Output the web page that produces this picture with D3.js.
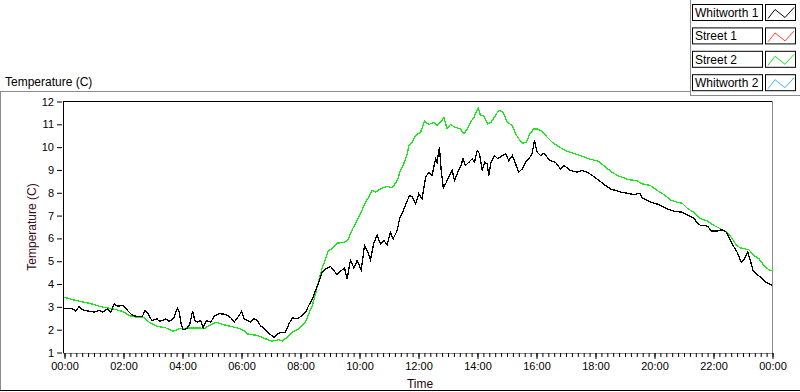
<!DOCTYPE html>
<html>
<head>
<meta charset="utf-8">
<script src="https://cdn.jsdelivr.net/npm/d3@7"></script>
<style>
  html, body { margin: 0; padding: 0; background: #fff; }
  svg { display: block; font-family: "Liberation Sans", Arial, sans-serif; }
</style>
</head>
<body>
<div id="chart"></div>
<script>
// Whitworth 1 (black) - hours since midnight, temperature in C
const w1Hours = [0.00,0.27,0.38,0.50,0.61,0.84,1.00,1.18,1.29,1.46,1.57,1.68,1.80,1.97,2.08,2.19,2.31,2.47,2.64,2.73,2.85,2.96,3.13,3.21,3.32,3.43,3.55,3.69,3.83,3.89,3.94,4.02,4.14,4.25,4.34,4.42,4.51,4.62,4.70,4.81,4.96,5.07,5.24,5.47,5.64,5.75,5.92,6.00,6.09,6.20,6.31,6.42,6.53,6.64,6.81,6.98,7.10,7.21,7.32,7.49,7.60,7.72,7.89,8.06,8.17,8.28,8.40,8.51,8.62,8.73,8.85,9.02,9.13,9.24,9.36,9.49,9.58,9.69,9.81,9.92,10.06,10.17,10.28,10.37,10.49,10.60,10.71,10.82,10.94,11.05,11.14,11.28,11.37,11.45,11.53,11.62,11.70,11.79,11.90,12.01,12.12,12.24,12.35,12.46,12.58,12.63,12.71,12.77,12.84,12.92,13.03,13.14,13.22,13.33,13.42,13.51,13.59,13.71,13.82,13.90,13.99,14.07,14.16,14.24,14.33,14.38,14.46,14.58,14.69,14.84,14.95,15.06,15.18,15.29,15.40,15.52,15.63,15.74,15.85,15.93,16.02,16.14,16.25,16.36,16.47,16.64,16.81,16.93,17.15,17.38,17.55,17.72,17.89,18.15,18.34,18.51,18.68,18.85,19.07,19.30,19.50,19.58,19.81,19.98,20.15,20.26,20.43,20.66,20.94,21.16,21.33,21.45,21.56,21.70,21.81,21.93,22.12,22.29,22.44,22.52,22.63,22.80,22.94,23.03,23.16,23.25,23.34,23.48,23.65,23.76,24.00];
const w1Temps = [2.94,2.92,2.81,3.02,2.87,2.81,2.77,2.84,2.77,2.92,2.77,3.13,3.03,3.06,2.92,2.77,2.62,2.58,2.58,2.84,2.67,2.40,2.48,2.37,2.40,2.48,2.37,2.48,2.94,2.77,2.33,2.00,2.04,2.26,2.81,2.40,2.33,2.40,2.08,2.40,2.33,2.58,2.70,2.67,2.52,2.33,2.62,2.80,2.48,2.40,2.33,2.48,2.40,2.18,2.00,1.79,1.65,1.79,1.89,1.89,2.23,2.52,2.48,2.62,2.77,3.06,3.35,3.72,4.08,4.52,4.67,4.77,4.59,4.42,4.56,4.71,4.23,5.03,4.71,5.03,4.62,5.69,5.40,5.06,5.83,6.13,5.76,5.91,5.73,6.27,5.98,6.35,6.93,7.10,7.37,7.66,7.88,7.81,7.52,7.96,7.74,8.68,8.90,8.76,9.49,9.34,10.00,8.98,8.22,8.39,8.71,8.98,8.54,8.90,9.12,9.49,9.20,9.34,9.49,9.34,9.85,9.71,8.98,9.34,9.27,8.76,9.34,9.63,9.49,9.63,9.71,9.41,9.63,9.27,8.90,9.05,9.34,9.49,9.71,10.29,9.78,9.63,9.73,9.56,9.41,9.34,9.05,9.20,8.98,8.90,8.98,8.90,8.76,8.51,8.32,8.17,8.10,8.03,7.98,7.92,7.98,7.78,7.63,7.54,7.49,7.40,7.30,7.19,7.15,7.00,6.90,6.67,6.57,6.57,6.52,6.32,6.32,6.38,6.27,6.05,5.76,5.40,4.96,5.06,5.40,5.03,4.59,4.42,4.23,4.10,3.94];

// Street 2 (green)
const s2Hours = [0.00,0.38,0.84,1.29,1.63,1.97,2.19,2.42,2.70,2.87,3.15,3.43,3.69,3.89,4.23,4.57,4.74,4.90,5.13,5.36,5.64,5.86,6.09,6.19,6.32,6.53,6.81,7.04,7.27,7.38,7.55,7.72,7.94,8.17,8.28,8.40,8.51,8.62,8.73,8.85,8.93,9.07,9.24,9.47,9.60,9.75,9.92,10.06,10.20,10.32,10.43,10.54,10.71,10.94,11.11,11.28,11.39,11.50,11.62,11.67,11.79,11.90,12.07,12.20,12.35,12.52,12.63,12.75,12.86,12.97,13.08,13.25,13.42,13.54,13.65,13.76,13.88,14.02,14.10,14.21,14.35,14.46,14.61,14.72,14.87,15.01,15.18,15.29,15.40,15.52,15.66,15.77,15.91,16.04,16.19,16.36,16.53,16.70,16.87,17.04,17.26,17.49,17.77,18.11,18.34,18.56,18.74,18.96,19.13,19.39,19.58,19.86,20.09,20.32,20.54,20.77,20.94,21.13,21.33,21.56,21.79,22.01,22.24,22.46,22.60,22.75,22.89,23.05,23.20,23.37,23.54,23.71,23.88,24.00];
const s2Temps = [3.42,3.28,3.16,2.99,2.92,2.80,2.62,2.55,2.52,2.33,2.14,2.08,1.93,2.04,2.08,2.08,2.04,2.18,2.33,2.23,2.14,2.08,1.96,1.82,1.79,1.75,1.60,1.50,1.56,1.50,1.67,1.89,2.04,2.33,2.70,3.06,3.57,4.16,4.67,5.11,5.44,5.55,5.79,5.83,5.91,6.38,6.79,7.15,7.59,7.81,8.10,8.03,8.17,8.28,8.22,8.54,8.98,9.27,9.71,10.07,10.22,10.51,10.65,11.14,10.99,11.09,10.95,11.09,11.31,10.80,10.99,10.87,10.80,10.58,10.80,11.09,11.31,11.72,11.39,11.39,11.02,11.09,11.39,11.61,11.53,11.09,10.95,10.58,10.37,10.17,10.22,10.58,10.80,10.80,10.70,10.44,10.22,10.07,9.93,9.82,9.73,9.63,9.49,9.38,9.12,8.90,8.76,8.66,8.57,8.54,8.39,8.32,8.10,7.92,7.69,7.59,7.54,7.30,7.15,6.86,6.76,6.57,6.42,6.27,6.05,5.76,5.59,5.55,5.50,5.25,5.11,4.81,4.62,4.59];

const legendNames = ["Whitworth 1", "Street 1", "Street 2", "Whitworth 2"];
const legendColors = ["#000000", "#ff4040", "#1ee61e", "#40b8ff"];
const yTicks = [1,2,3,4,5,6,7,8,9,10,11,12];

const W = 800, H = 392;
const day0 = new Date(2000, 0, 1, 0, 0);
const toDate = h => new Date(day0.getTime() + h * 3600000);

const svg = d3.select("#chart").append("svg").attr("width", W).attr("height", H);

const x = d3.scaleTime().domain([toDate(0), toDate(24)]).range([64.5, 772.5]);
const y = d3.scaleLinear().domain([1, 12]).range([352.5, 101.5]);

// outer frame
svg.append("line").attr("x1", 0).attr("x2", 690).attr("y1", 91.5).attr("y2", 91.5).attr("stroke", "#8c8c8c");
svg.append("line").attr("x1", 0.5).attr("x2", 0.5).attr("y1", 91).attr("y2", 391).attr("stroke", "#8c8c8c");
svg.append("line").attr("x1", 0).attr("x2", W).attr("y1", 390.5).attr("y2", 390.5).attr("stroke", "#000");
svg.append("line").attr("x1", 690.5).attr("x2", 690.5).attr("y1", 0).attr("y2", 96).attr("stroke", "#8c8c8c");
svg.append("line").attr("x1", 690).attr("x2", W).attr("y1", 95.5).attr("y2", 95.5).attr("stroke", "#8c8c8c");

svg.append("text").attr("x", 5).attr("y", 86).attr("font-size", "12px").attr("fill", "#000")
  .text("Temperature (C)");

// plot frame
svg.append("line").attr("x1", 63).attr("x2", 773).attr("y1", 101.5).attr("y2", 101.5).attr("stroke", "#000");
svg.append("line").attr("x1", 63.5).attr("x2", 63.5).attr("y1", 101).attr("y2", 354).attr("stroke", "#000");
svg.append("line").attr("x1", 63).attr("x2", 773).attr("y1", 353.5).attr("y2", 353.5).attr("stroke", "#8c8c8c");
svg.append("line").attr("x1", 772.5).attr("x2", 772.5).attr("y1", 101).attr("y2", 354).attr("stroke", "#8c8c8c");

// y axis
const yAxis = svg.append("g").attr("transform", "translate(62,0)")
  .call(d3.axisLeft(y).tickValues(yTicks).tickSize(5).tickPadding(3));
yAxis.select(".domain").remove();
yAxis.selectAll("text").attr("font-size", "11px").attr("font-family", "Liberation Sans, Arial, sans-serif").attr("fill", "#000");
yAxis.selectAll("line").attr("stroke", "#000");

// x axis, major every 2h, minor every 12 min
const xMinor = svg.append("g").attr("transform", "translate(0,353)")
  .call(d3.axisBottom(x).ticks(d3.timeMinute.every(12)).tickSize(4).tickFormat(""));
xMinor.select(".domain").remove();
xMinor.selectAll("line").attr("stroke", "#000");

const xAxis = svg.append("g").attr("transform", "translate(0,353)")
  .call(d3.axisBottom(x).ticks(d3.timeHour.every(2)).tickSize(6).tickPadding(3).tickFormat(d3.timeFormat("%H:%M")));
xAxis.select(".domain").remove();
xAxis.selectAll("text").attr("font-size", "11px").attr("font-family", "Liberation Sans, Arial, sans-serif").attr("fill", "#000");
xAxis.selectAll("line").attr("stroke", "#000");

// axis titles
svg.append("text").attr("transform", "translate(36,227) rotate(-90)")
  .attr("text-anchor", "middle").attr("font-size", "12px").attr("fill", "#3a0c24")
  .text("Temperature (C)");
svg.append("text").attr("x", 420).attr("y", 388)
  .attr("text-anchor", "middle").attr("font-size", "12px").attr("fill", "#1a0a14")
  .text("Time");

// series (aliased 1px lines like the original instrument plot)
const line = d3.line().x(d => x(toDate(d[0]))).y(d => y(d[1]));
const s2 = s2Hours.map((h, i) => [h, s2Temps[i]]);
const w1 = w1Hours.map((h, i) => [h, w1Temps[i]]);

svg.append("path").datum(s2).attr("d", line)
  .attr("fill", "none").attr("stroke", legendColors[2]).attr("stroke-width", 1.3)
  .attr("shape-rendering", "crispEdges");
svg.append("path").datum(w1).attr("d", line)
  .attr("fill", "none").attr("stroke", legendColors[0]).attr("stroke-width", 1.3)
  .attr("shape-rendering", "crispEdges");

// legend
const leg = svg.append("g");
legendNames.forEach((name, i) => {
  const top = 4.5 + i * 23.4;
  leg.append("rect").attr("x", 692.5).attr("y", top).attr("width", 70).attr("height", 16)
    .attr("fill", "#fff").attr("stroke", "#000");
  leg.append("text").attr("x", 695).attr("y", top + 12.5).attr("font-size", "12px").attr("fill", "#000")
    .text(name);
  leg.append("rect").attr("x", 765.5).attr("y", top).attr("width", 30).attr("height", 16)
    .attr("fill", "#fff").attr("stroke", "#000");
  leg.append("polyline")
    .attr("points", [[768, top + 14], [775, top + 5], [785, top + 13], [794, top + 3]].map(p => p.join(",")).join(" "))
    .attr("fill", "none").attr("stroke", legendColors[i]).attr("stroke-width", 1);
});
</script>
</body>
</html>
